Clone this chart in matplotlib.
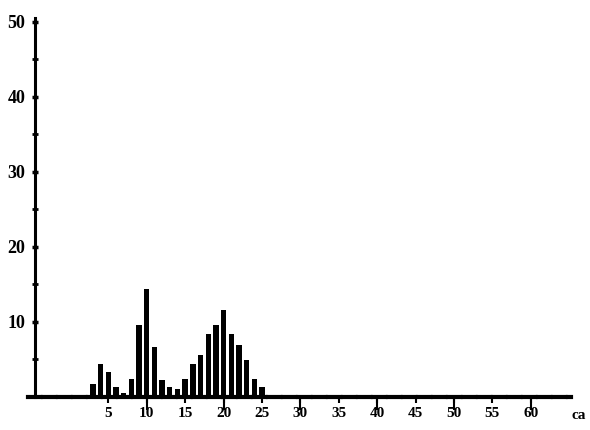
"""
Histogram of ca values, redrawn from an old scanned plot
"""

import matplotlib
matplotlib.use('Agg')
import matplotlib.pyplot as plt
import numpy as np

# Bin centres (ca) and bar heights
ca_values = [3, 4, 5, 6, 7, 8, 9, 10, 11, 12, 13, 14,
             15, 16, 17, 18, 19, 20, 21, 22, 23, 24, 25]
heights = [1.7, 4.4, 3.3, 1.3, 0.5, 2.4, 9.6, 14.4, 6.7, 2.3, 1.3, 1.0,
           2.4, 4.4, 5.6, 8.4, 9.6, 11.6, 8.4, 6.9, 4.9, 2.4, 1.3]

x_ticks = [5, 10, 15, 20, 25, 30, 35, 40, 45, 50, 55, 60]
x_long_ticks = [10, 20, 30, 40, 50, 60]
y_ticks = [10, 20, 30, 40, 50]
y_minor_ticks = [5, 15, 25, 35, 45]

FONT = 'Liberation Serif'

fig = plt.figure(figsize=(5.9, 4.3), dpi=100)
ax = fig.add_axes([0, 0, 1, 1])

# axes span the whole figure, limits chosen so the frame sits where the scan has it
ax.set_xlim(-9.1, 67.7)
ax.set_ylim(-4.4, 52.9)

ax.bar(ca_values, heights, width=0.7, color='black', zorder=3)

# y axis: solid line left of zero
ax.spines['left'].set_position(('data', -4.6))
ax.spines['left'].set_bounds(0, 50.5)
ax.spines['left'].set_linewidth(2.2)

# x axis: heavy broken baseline
ax.spines['bottom'].set_position(('data', 0))
ax.spines['bottom'].set_bounds(-5.4, 65.2)
ax.spines['bottom'].set_linewidth(3)
ax.spines['bottom'].set_linestyle((0, (3, 0.6)))
ax.spines['top'].set_visible(False)
ax.spines['right'].set_visible(False)

ax.set_xticks(x_ticks)
ax.set_xticklabels([str(t) for t in x_ticks], fontfamily=FONT,
                   fontsize=11, fontweight='bold')
ax.set_xticks(x_long_ticks, minor=True)
ax.xaxis.remove_overlapping_locs = False
ax.tick_params(axis='x', which='major', direction='out', length=4,
               width=1.5, pad=3)
ax.tick_params(axis='x', which='minor', direction='out', length=9,
               width=1.5)

ax.set_yticks(y_ticks)
ax.set_yticklabels([str(t) for t in y_ticks], fontfamily=FONT,
                   fontsize=13, fontweight='bold')
ax.set_yticks(y_minor_ticks, minor=True)
ax.tick_params(axis='y', which='major', direction='inout', length=5,
               width=2.5, pad=4)
ax.tick_params(axis='y', which='minor', direction='inout', length=4,
               width=2)

ax.text(66.2, -1.6, 'ca', fontfamily=FONT, fontsize=11, fontweight='bold',
        ha='center', va='top')

fig.savefig('out.png', dpi=100)
